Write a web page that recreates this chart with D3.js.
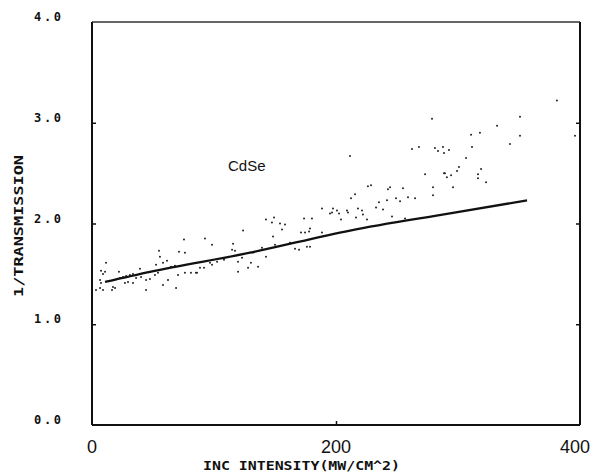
<!DOCTYPE html>
<html>
<head>
<meta charset="utf-8">
<script src="https://cdn.jsdelivr.net/npm/d3@7"></script>
<style>
  html, body { margin: 0; padding: 0; background: #fff; }
  svg { display: block; }
</style>
</head>
<body>
<svg id="chart" width="596" height="476"></svg>
<script>
// ---- data ----
const xTicks = [0, 200, 400];
const xTickLabels = ["0", "200", "400"];
const yTicks = [0, 1, 2, 3, 4];
const yTickLabels = ["0.0", "1.0", "2.0", "3.0", "4.0"];
const xTitle = "INC INTENSITY(MW/CM^2)";
const yTitle = "1/TRANSMISSION";
const sampleLabel = "CdSe";

// measured points: [intensity, 1/transmission]
const measuredX = [
  11.5,7.4,10.7,9.0,6.6,7.4,3.3,6.6,9.0,17.2,18.9,16.4,22.1,23.0,25.4,27.9,31.1,33.6,27.0,29.5,
  33.6,39.3,36.1,40.2,44.3,47.5,44.3,51.6,54.1,52.5,55.7,54.9,58.2,61.5,58.2,62.3,64.8,68.0,68.9,70.5,
  71.3,76.2,75.4,76.2,81.1,85.2,92.6,98.4,86.1,88.5,91.8,96.7,98.4,102.5,108.2,114.8,117.2,115.6,123.8,119.7,
  123.0,119.7,127.9,130.3,136.1,139.3,142.6,142.6,147.5,149.2,154.1,158.2,148.4,150.0,155.7,162.3,166.4,169.7,171.3,174.6,
  177.9,178.7,173.8,180.3,176.2,178.7,211.5,188.5,195.1,196.7,197.5,200.8,202.5,204.1,209.0,209.8,212.3,215.6,216.4,218.0,
  221.3,222.1,225.4,226.2,228.7,232.8,235.2,238.5,241.8,242.6,244.3,245.9,249.2,252.5,254.9,256.6,259.0,264.8,262.3,268.0,
  273.0,279.5,279.5,281.1,283.6,287.7,288.5,188.5,288.5,381.1,350.8,332.0,318.0,310.7,350.8,342.6,292.6,311.5,306.6,300.8,
  299.2,318.9,289.3,290.9,294.3,316.4,316.4,323.0,295.9,395.9,278.7
];
const measuredY = [
  1.61,1.53,1.52,1.50,1.44,1.41,1.34,1.36,1.34,1.37,1.36,1.34,1.52,1.46,1.47,1.48,1.49,1.50,1.41,1.42,
  1.41,1.55,1.46,1.47,1.44,1.45,1.34,1.49,1.51,1.59,1.67,1.73,1.61,1.63,1.39,1.44,1.57,1.58,1.36,1.49,
  1.72,1.71,1.84,1.51,1.51,1.51,1.85,1.79,1.51,1.56,1.56,1.61,1.59,1.62,1.64,1.74,1.73,1.80,1.93,1.62,
  1.66,1.52,1.56,1.61,1.57,1.76,1.67,2.04,2.01,2.06,2.00,1.99,1.87,1.79,1.94,1.81,1.75,1.74,1.91,1.91,
  1.92,1.95,2.05,2.05,1.77,1.77,2.67,2.15,2.10,2.11,2.15,2.13,2.10,2.04,2.13,2.11,2.25,2.29,2.06,2.15,
  2.13,2.09,2.04,2.37,2.38,2.16,2.21,2.14,2.23,2.34,2.36,2.07,2.25,2.22,2.35,2.05,2.26,2.25,2.74,2.76,
  2.49,2.36,2.28,2.75,2.72,2.76,2.70,1.91,2.50,3.22,3.06,2.97,2.90,2.88,2.87,2.79,2.73,2.76,2.65,2.56,
  2.52,2.54,2.50,2.46,2.48,2.49,2.45,2.41,2.36,2.87,3.04
];

// fitted curve
const fitX = [10.7, 47.5, 129.5, 211.5, 293.4, 356.6];
const fitY = [1.42, 1.52, 1.71, 1.93, 2.10, 2.23];

// ---- layout ----
const svg = d3.select("#chart");
const mLeft = 92, mRight = 580, mTop = 22, mBottom = 425;

const x = d3.scaleLinear().domain([0, 400]).range([mLeft, mRight]);
const y = d3.scaleLinear().domain([0, 4]).range([mBottom, mTop]);

const ink = "#111";

// frame
svg.append("line").attr("x1", mLeft).attr("x2", mRight).attr("y1", mTop).attr("y2", mTop)
  .attr("stroke", "#333").attr("stroke-width", 1.5);
svg.append("line").attr("x1", mLeft).attr("x2", mRight).attr("y1", mBottom).attr("y2", mBottom)
  .attr("stroke", ink).attr("stroke-width", 2);
svg.append("line").attr("x1", mLeft).attr("x2", mLeft).attr("y1", mTop).attr("y2", mBottom)
  .attr("stroke", ink).attr("stroke-width", 2);
svg.append("line").attr("x1", mRight).attr("x2", mRight).attr("y1", mTop).attr("y2", mBottom)
  .attr("stroke", ink).attr("stroke-width", 2);

const monoFont = "'DejaVu Sans Mono', monospace";

const yAxisL = d3.axisRight(y).tickValues(yTicks.slice(1, 4)).tickSize(4).tickFormat("");
svg.append("g").attr("transform", `translate(${mLeft},0)`).call(yAxisL)
  .call(g => g.select(".domain").remove())
  .call(g => g.selectAll("line").attr("stroke", ink).attr("stroke-width", 1.5));
const yAxisR = d3.axisLeft(y).tickValues(yTicks.slice(1, 4)).tickSize(4).tickFormat("");
svg.append("g").attr("transform", `translate(${mRight},0)`).call(yAxisR)
  .call(g => g.select(".domain").remove())
  .call(g => g.selectAll("line").attr("stroke", ink).attr("stroke-width", 1.5));
const xAxisB = d3.axisTop(x).tickValues([200]).tickSize(4).tickFormat("");
svg.append("g").attr("transform", `translate(0,${mBottom})`).call(xAxisB)
  .call(g => g.select(".domain").remove())
  .call(g => g.selectAll("line").attr("stroke", ink).attr("stroke-width", 1.5));

// y tick labels
svg.append("g").selectAll("text").data(yTicks).join("text")
  .attr("x", 34)
  .attr("y", d => y(d) - 1)
  .attr("font-family", monoFont)
  .attr("font-weight", "bold")
  .attr("font-size", 12)
  .attr("textLength", 27)
  .attr("lengthAdjust", "spacing")
  .attr("fill", ink)
  .text((d, i) => yTickLabels[i]);

// x tick labels
svg.append("g").selectAll("text").data(xTicks).join("text")
  .attr("x", d => x(d) - (d === 400 ? 5 : 0))
  .attr("y", 453)
  .attr("text-anchor", "middle")
  .attr("font-family", "'Liberation Sans', Arial, sans-serif")
  .attr("font-size", 18)
  .attr("fill", ink)
  .text((d, i) => xTickLabels[i]);

// axis titles
svg.append("text")
  .attr("x", 203).attr("y", 470)
  .attr("font-family", monoFont)
  .attr("font-weight", "bold")
  .attr("font-size", 12)
  .attr("textLength", 197)
  .attr("lengthAdjust", "spacingAndGlyphs")
  .attr("fill", ink)
  .text(xTitle);

svg.append("text")
  .attr("transform", "translate(23,297) rotate(-90)")
  .attr("x", 0).attr("y", 0)
  .attr("font-family", monoFont)
  .attr("font-weight", "bold")
  .attr("font-size", 12)
  .attr("textLength", 142)
  .attr("lengthAdjust", "spacingAndGlyphs")
  .attr("fill", ink)
  .text(yTitle);

// sample label
svg.append("text")
  .attr("x", x(111.5)).attr("y", y(2.52))
  .attr("font-family", "'Liberation Sans', Arial, sans-serif")
  .attr("font-size", 15)
  .attr("fill", ink)
  .text(sampleLabel);

// measured points
const pts = measuredX.map((v, i) => [v, measuredY[i]]);
svg.append("g").selectAll("circle").data(pts).join("circle")
  .attr("cx", d => x(d[0]))
  .attr("cy", d => y(d[1]))
  .attr("r", 1.0)
  .attr("fill", "#222");

// fit curve
const fit = fitX.map((v, i) => [v, fitY[i]]);
svg.append("path")
  .datum(fit)
  .attr("d", d3.line().x(d => x(d[0])).y(d => y(d[1])).curve(d3.curveMonotoneX))
  .attr("fill", "none")
  .attr("stroke", ink)
  .attr("stroke-width", 2.3);
</script>
</body>
</html>
